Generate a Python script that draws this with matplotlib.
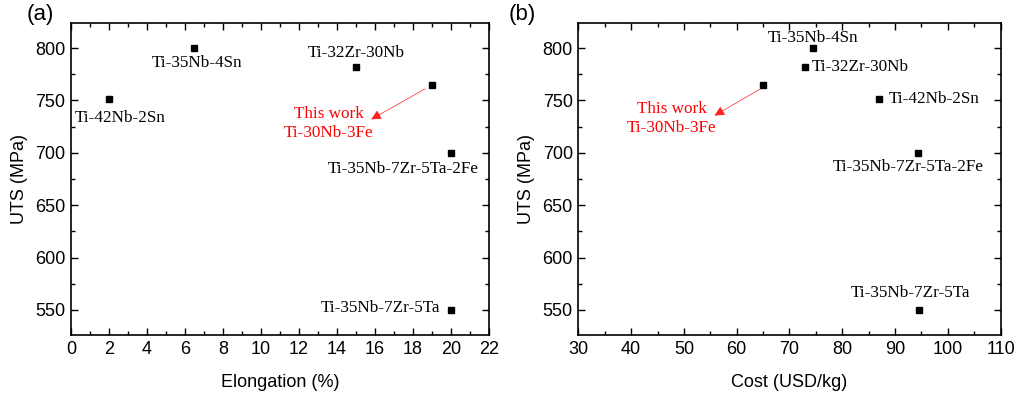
import matplotlib
matplotlib.use("Agg")
import matplotlib.pyplot as plt
from matplotlib.ticker import MultipleLocator

# Data
alloys_a = ["Ti-42Nb-2Sn", "Ti-35Nb-4Sn", "Ti-32Zr-30Nb", "Ti-30Nb-3Fe", "Ti-35Nb-7Zr-5Ta-2Fe", "Ti-35Nb-7Zr-5Ta"]
elong = [2, 6.5, 15, 19, 20, 20]
uts_a = [751, 800, 782, 765, 700, 550]

alloys_b = ["Ti-35Nb-4Sn", "Ti-32Zr-30Nb", "Ti-30Nb-3Fe", "Ti-42Nb-2Sn", "Ti-35Nb-7Zr-5Ta-2Fe", "Ti-35Nb-7Zr-5Ta"]
cost = [74.4, 72.9, 65.0, 86.9, 94.3, 94.6]
uts_b = [800, 782, 765, 751, 700, 550]

# label offsets (points) and alignment
lab_a = {
    "Ti-42Nb-2Sn": ((8, -13.5), "center"),
    "Ti-35Nb-4Sn": ((2, -11), "center"),
    "Ti-32Zr-30Nb": ((0, 10), "center"),
    "Ti-35Nb-7Zr-5Ta-2Fe": ((-34.5, -12), "center"),
    "Ti-35Nb-7Zr-5Ta": ((-8, 1.5), "right"),
}
lab_b = {
    "Ti-35Nb-4Sn": ((0, 7.5), "center"),
    "Ti-32Zr-30Nb": ((5, 0), "left"),
    "Ti-42Nb-2Sn": ((7, 0), "left"),
    "Ti-35Nb-7Zr-5Ta-2Fe": ((-7, -10), "center"),
    "Ti-35Nb-7Zr-5Ta": ((-6, 12.5), "center"),
}

serif = "Liberation Serif"
sans = "Liberation Sans"
plt.rcParams['font.family'] = sans

FS_TICK = 13
FS_LAB = 13
FS_ANN = 12.3

fig = plt.figure(figsize=(10.2, 3.93), dpi=100)
axa = fig.add_axes([0.0696, 0.1476, 0.4098, 0.7939])
axb = fig.add_axes([0.567, 0.1476, 0.414, 0.7939])


def style(ax, xlim, xmaj, xmin):
    ax.set_xlim(*xlim)
    ax.set_ylim(526, 824)
    ax.xaxis.set_major_locator(MultipleLocator(xmaj))
    ax.xaxis.set_minor_locator(MultipleLocator(xmin))
    ax.yaxis.set_major_locator(MultipleLocator(50))
    ax.yaxis.set_minor_locator(MultipleLocator(25))
    ax.tick_params(which='both', direction='in', top=True, right=True, labelsize=FS_TICK)
    ax.tick_params(which='major', length=5, width=1, pad=4)
    ax.tick_params(which='minor', length=3, width=1)
    for s in ax.spines.values():
        s.set_linewidth(1.2)
    ax.set_ylabel("UTS (MPa)", fontsize=FS_LAB, labelpad=5)


def draw(ax, xs, ys, names, labs):
    ax.plot(xs, ys, 's', color='black', markersize=4.8, linestyle='none')
    for x, y, n in zip(xs, ys, names):
        if n in labs:
            (dx, dy), ha = labs[n]
            ax.annotate(n, (x, y), xytext=(dx, dy), textcoords='offset points',
                        ha=ha, va='center', fontsize=FS_ANN, family=serif)


arrow = dict(arrowstyle='-|>,head_length=0.6,head_width=0.3', color='#ff2020', lw=0.5,
             mutation_scale=10, shrinkA=0, shrinkB=0)

# (a)
style(axa, (0, 22), 2, 1)
draw(axa, elong, uts_a, alloys_a, lab_a)
axa.set_xlabel("Elongation (%)", fontsize=FS_LAB, labelpad=12)
axa.annotate("", xy=(15.8, 732), xytext=(18.63, 761), arrowprops=arrow)
axa.text(13.56, 737.2, "This work", color='red', ha='center', va='center', fontsize=FS_ANN, family=serif)
axa.text(13.56, 718.7, "Ti-30Nb-3Fe", color='red', ha='center', va='center', fontsize=FS_ANN, family=serif)
fig.text(0.026, 0.962, "(a)", fontsize=16, ha='left', va='center')

# (b)
style(axb, (30, 110), 10, 5)
draw(axb, cost, uts_b, alloys_b, lab_b)
axb.set_xlabel("Cost (USD/kg)", fontsize=FS_LAB, labelpad=12)
axb.annotate("", xy=(55.8, 735.6), xytext=(64.4, 760.8), arrowprops=arrow)
axb.text(47.7, 741.7, "This work", color='red', ha='center', va='center', fontsize=FS_ANN, family=serif)
axb.text(47.7, 723.5, "Ti-30Nb-3Fe", color='red', ha='center', va='center', fontsize=FS_ANN, family=serif)
fig.text(0.499, 0.962, "(b)", fontsize=16, ha='left', va='center')

fig.savefig("out.png", dpi=100)
